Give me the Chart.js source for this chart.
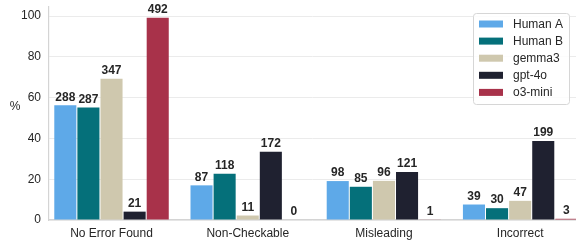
<!DOCTYPE html>
<html>
<head>
<meta charset="utf-8">
<script src="https://cdn.jsdelivr.net/npm/chart.js@4"></script>
<style>
  html, body { margin: 0; padding: 0; background: #fff; }
  #chart { display: block; }
</style>
</head>
<body>
<canvas id="chart" width="576" height="246"></canvas>
<script>
const categories = ['No Error Found', 'Non-Checkable', 'Misleading', 'Incorrect'];
const seriesNames = ['Human A', 'Human B', 'gemma3', 'gpt-4o', 'o3-mini'];
const colors = ['#5ea9e8', '#05707a', '#cfc8ae', '#1f2130', '#a8324a'];

// percentage of each annotator's answers
const humanA = [56.3, 17.0, 19.1, 7.6];
const humanB = [55.2, 22.7, 16.3, 5.8];
const gemma3 = [69.3, 2.2, 19.2, 9.4];
const gpt4o = [4.1, 33.5, 23.6, 38.8];
const o3mini = [99.2, 0, 0.2, 0.6];

// raw counts written above the bars
const countsA = [288, 87, 98, 39];
const countsB = [287, 118, 85, 30];
const countsGemma = [347, 11, 96, 47];
const countsGpt = [21, 172, 121, 199];
const countsO3 = [492, 0, 1, 3];

const yTicks = [0, 20, 40, 60, 80, 100];

const percents = [humanA, humanB, gemma3, gpt4o, o3mini];
const counts = [countsA, countsB, countsGemma, countsGpt, countsO3];

const textColor = '#262626';
const font = 'Liberation Sans, Arial, sans-serif';

const datasets = seriesNames.map((name, s) => ({
    label: name,
    data: percents[s].map((v, i) => ({ x: i, y: v })),
    counts: counts[s],
    backgroundColor: colors[s],
    borderWidth: 0
}));

const countLabels = {
    id: 'countLabels',
    afterDatasetsDraw(chart) {
        const ctx = chart.ctx;
        ctx.save();
        ctx.font = 'bold 12px ' + font;
        ctx.fillStyle = textColor;
        ctx.textAlign = 'center';
        ctx.textBaseline = 'bottom';
        chart.data.datasets.forEach((ds, s) => {
            chart.getDatasetMeta(s).data.forEach((bar, i) => {
                ctx.fillText(String(ds.counts[i]), bar.x, bar.y - 2);
            });
        });
        ctx.restore();
    }
};

const sideLegend = {
    id: 'sideLegend',
    afterDraw(chart) {
        const ctx = chart.ctx;
        const area = chart.chartArea;
        ctx.save();

        // y axis label
        ctx.font = '12px ' + font;
        ctx.fillStyle = textColor;
        ctx.textAlign = 'center';
        ctx.textBaseline = 'middle';
        ctx.fillText('%', area.left - 34, (area.top + area.bottom) / 2 - 7);

        // legend box
        const w = 96, h = 91;
        const x0 = area.right - 7 - w, y0 = area.top + 6;
        ctx.beginPath();
        ctx.roundRect(x0 + 0.5, y0 + 0.5, w, h, 3);
        ctx.fillStyle = 'rgba(255,255,255,0.85)';
        ctx.fill();
        ctx.strokeStyle = '#d6d6d6';
        ctx.lineWidth = 1;
        ctx.stroke();

        ctx.textAlign = 'left';
        chart.data.datasets.forEach((ds, s) => {
            const cy = y0 + 11 + s * 17.1;
            ctx.fillStyle = ds.backgroundColor;
            ctx.fillRect(x0 + 6, cy - 3.5, 24, 7);
            ctx.fillStyle = textColor;
            ctx.fillText(ds.label, x0 + 40, cy + 0.5);
        });
        ctx.restore();
    }
};

new Chart(document.getElementById('chart'), {
    type: 'bar',
    data: { datasets: datasets },
    plugins: [countLabels, sideLegend],
    options: {
        responsive: false,
        animation: false,
        devicePixelRatio: 1,
        categoryPercentage: 0.848,
        barPercentage: 0.955,
        layout: { padding: { top: 7, right: 0, left: 0, bottom: 0 } },
        plugins: {
            legend: { display: false },
            tooltip: { enabled: false }
        },
        scales: {
            x: {
                type: 'linear',
                offset: false,
                min: -0.459,
                max: 3.41,
                afterBuildTicks(scale) {
                    scale.ticks = categories.map((c, i) => ({ value: i }));
                },
                afterFit(scale) {
                    scale.height = 26;
                    scale.paddingLeft = 0;
                    scale.paddingRight = 0;
                },
                ticks: {
                    callback: (v) => categories[v] ?? '',
                    color: textColor,
                    font: { family: font, size: 12 },
                    padding: 6,
                    maxRotation: 0,
                    autoSkip: false
                },
                grid: { display: false, drawTicks: false, offset: false },
                border: { display: true, color: '#d4d4d4', width: 1.2 }
            },
            y: {
                min: 0,
                max: 104.5,
                afterBuildTicks(scale) {
                    scale.ticks = yTicks.map(v => ({ value: v }));
                },
                afterFit(scale) {
                    scale.width = 49;
                    scale.paddingTop = 0;
                    scale.paddingBottom = 0;
                },
                ticks: {
                    color: textColor,
                    font: { family: font, size: 12 },
                    padding: 8
                },
                grid: { color: '#ebebeb', lineWidth: 1, drawTicks: false },
                border: { display: true, color: '#d4d4d4', width: 1.2 }
            }
        }
    }
});
</script>
</body>
</html>
